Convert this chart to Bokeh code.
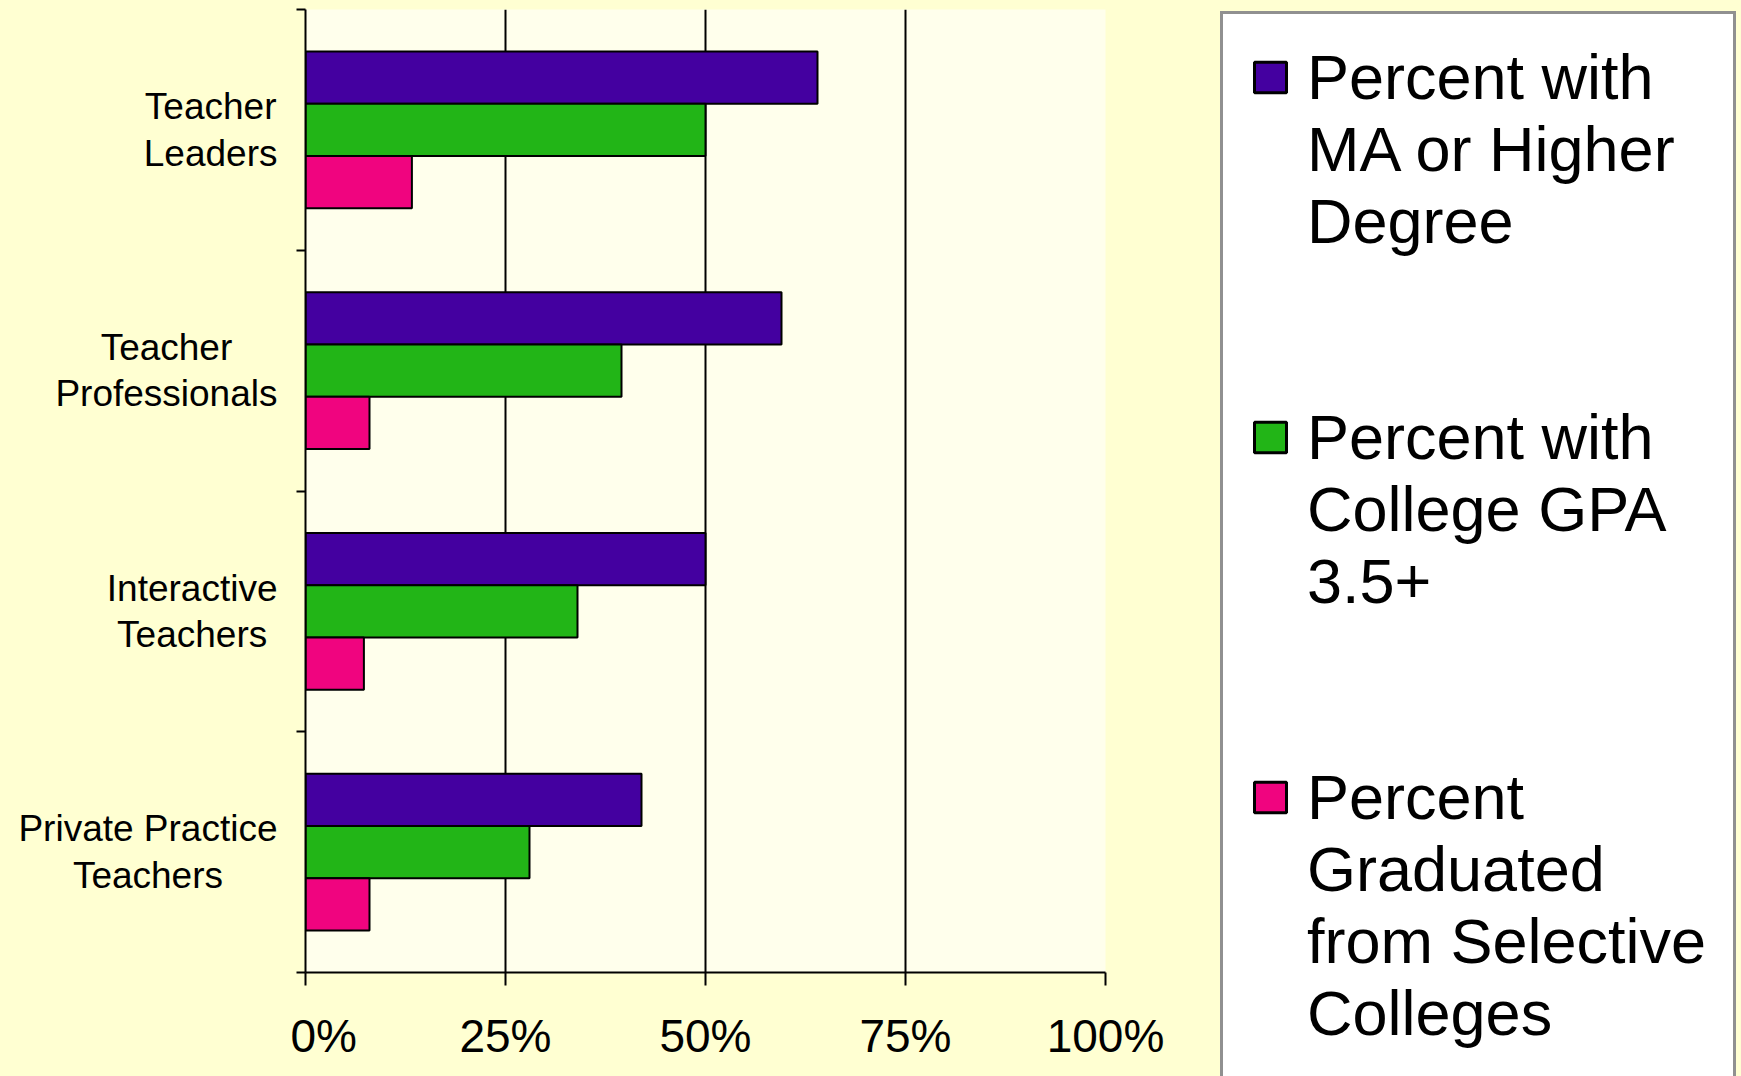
from bokeh.plotting import figure
from bokeh.layouts import row
from bokeh.models import Range1d, FixedTicker, Legend, LegendItem, ColumnDataSource
from bokeh.core.properties import value
from bokeh.transform import dodge
from bokeh.embed import file_html
from bokeh.resources import INLINE

# ---- data ----
categories = ["Teacher\nLeaders", "Teacher\nProfessionals", "Interactive\nTeachers",
              "Private Practice\nTeachers"]
series_names = [["Percent with", "MA or Higher", "Degree"],
                ["Percent with", "College GPA", "3.5+"],
                ["Percent", "Graduated", "from Selective", "Colleges"]]
ma_or_higher = [64, 59.5, 50, 42]
gpa_35_plus = [50, 39.5, 34, 28]
selective_colleges = [13.3, 8, 7.3, 8]
x_ticks = [0, 25, 50, 75, 100]
x_tick_labels = ["0%", "25%", "50%", "75%", "100%"]

colors = ["#4400A0", "#22B517", "#F0047F"]
FONT = "Liberation Sans"
OUTER = "#FFFFD2"
H = 1076

n = len(categories)
cat_pos = [n - i - 0.5 for i in range(n)]          # first category at the top
src = ColumnDataSource(dict(y=cat_pos, name=categories, ma=ma_or_higher,
                            gpa=gpa_35_plus, sel=selective_colleges))
y_range = Range1d(0, n)

# ---- left strip: category names ----
LW = 290
lab = figure(width=LW, height=H, x_range=Range1d(0, LW), y_range=y_range,
             output_backend="svg", toolbar_location=None,
             x_axis_location=None, y_axis_location=None,
             min_border_left=0, min_border_right=0, min_border_top=9, min_border_bottom=104)
lab.border_fill_color = OUTER
lab.background_fill_color = OUTER
lab.outline_line_color = None
lab.grid.grid_line_color = None
lab.text(x=277, y="y", text="name", source=src, anchor="center_right",
         text_align="center", text_baseline="middle",
         text_font=value(FONT), text_font_size="37px", text_color="black",
         text_line_height=1.14)

# ---- main chart ----
MW = 885
p = figure(width=MW, height=H,
           x_range=Range1d(0, 100), y_range=y_range,
           output_backend="svg", toolbar_location=None,
           min_border_left=305 - LW, min_border_right=MW - (1105 - LW),
           min_border_top=9, min_border_bottom=104)
p.border_fill_color = OUTER
p.background_fill_color = "#FFFFEC"
p.outline_line_color = None

bar_h = 0.217
cols = ["ma", "gpa", "sel"]
offsets = [bar_h, 0.0, -bar_h]
for col, off, c in zip(cols, offsets, colors):
    p.hbar(y=dodge("y", off, range=p.y_range), left=0, right=col, height=bar_h,
           source=src, fill_color=c, line_color="black", line_width=2)

p.xaxis.ticker = FixedTicker(ticks=x_ticks)
p.xaxis.major_label_overrides = {t: l for t, l in zip(x_ticks, x_tick_labels)}
p.xaxis.major_label_text_font = FONT
p.xaxis.major_label_text_font_size = "46px"
p.xaxis.major_label_text_color = "black"
p.xaxis.major_tick_out = 13
p.xaxis.major_tick_in = 0
p.xaxis.major_tick_line_width = 2
p.xaxis.major_tick_line_color = "black"
p.xaxis.minor_tick_line_color = None
p.xaxis.axis_line_width = 2
p.xaxis.axis_line_color = "black"
p.xaxis.major_label_standoff = 24

p.yaxis.ticker = FixedTicker(ticks=[], minor_ticks=list(range(n + 1)))
p.yaxis.major_tick_line_color = None
p.yaxis.major_tick_out = 0
p.yaxis.major_tick_in = 0
p.yaxis.minor_tick_out = 9
p.yaxis.minor_tick_in = 0
p.yaxis.minor_tick_line_width = 2
p.yaxis.minor_tick_line_color = "black"
p.yaxis.axis_line_width = 2
p.yaxis.axis_line_color = "black"
p.yaxis.major_label_text_font_size = "0px"

p.xgrid.grid_line_color = "black"
p.xgrid.grid_line_width = 2
p.ygrid.grid_line_color = None

# ---- right strip: legend ----
RW = 1741 - LW - MW
leg = figure(width=RW, height=H, x_range=Range1d(0, 1), y_range=Range1d(0, 1),
             output_backend="svg", toolbar_location=None,
             x_axis_location=None, y_axis_location=None,
             min_border_left=0, min_border_right=0, min_border_top=0, min_border_bottom=0)
leg.frame_align = False
leg.border_fill_color = OUTER
leg.background_fill_color = OUTER
leg.outline_line_color = None
leg.grid.grid_line_color = None

# legend swatch proxies (tiny, hidden underneath the opaque legend box)
swatches = [leg.hbar(y=[0.5], left=[0.8], right=[0.82], height=0.01, fill_color=c,
                     line_color="black", line_width=3) for c in colors]

items = []
for k, (lines, r) in enumerate(zip(series_names, swatches)):
    for j, line in enumerate(lines):
        items.append(LegendItem(label=line, renderers=[r] if j == 0 else []))
    gap = 2 if k < len(series_names) - 1 else 1
    for _ in range(gap):
        items.append(LegendItem(label=" ", renderers=[]))

PAD = 27
ROW = 72            # height of one legend row
FIRST_CENTER = 80   # centre of the first legend line
n_items = len(items)
leg_h = 2 * PAD + n_items * ROW
leg_top = FIRST_CENTER - ROW / 2 - PAD
legend = Legend(items=items, location=(1220 - (LW + MW), round(H - leg_top - leg_h)))
legend.label_text_font = FONT
legend.label_text_font_size = "63px"
legend.label_text_line_height = 0.9
legend.label_text_color = "black"
legend.label_height = ROW
legend.glyph_width = 40
legend.glyph_height = 38
legend.label_standoff = 17
legend.spacing = 0
legend.padding = PAD
legend.margin = 0
legend.border_line_color = "#222222"
legend.border_line_width = 3
legend.background_fill_color = "white"
legend.background_fill_alpha = 1.0
leg.add_layout(legend, "center")

layout = row(lab, p, leg, spacing=0)
layout.background = OUTER
open("out.html", "w").write(file_html(layout, INLINE))
